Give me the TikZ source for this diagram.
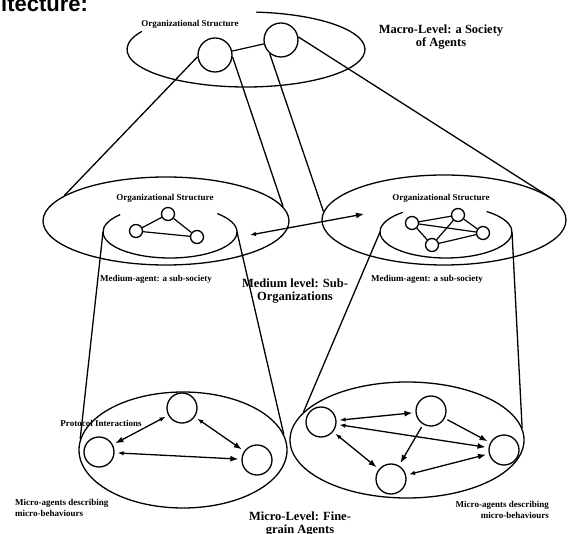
\documentclass[tikz,border=0pt]{standalone}
\usepackage{fontspec}
\setmainfont{Liberation Serif}
\newfontfamily\headfont{Liberation Sans}
\usetikzlibrary{arrows.meta,calc,shapes.geometric}
\tikzset{
  ring/.style={draw=black, line width=1.3pt},
  cone/.style={draw=black, line width=1.3pt},
  level/.style={ellipse, draw=black, line width=1.3pt, inner sep=0pt},
  agent/.style={circle, draw=black, line width=1.3pt, inner sep=0pt, minimum size=34pt},
  subAgent/.style={circle, draw=black, line width=1.3pt, inner sep=0pt, minimum size=13pt},
  microAgent/.style={circle, draw=black, line width=1.3pt, inner sep=0pt, minimum size=30pt},
  tie/.style={draw=black, line width=1.2pt},
  arrow/.style={-{Latex[length=8pt,width=6pt]}, draw=black, line width=1.3pt, shorten >=3pt, shorten <=3pt},
  biarrow/.style={{Latex[length=6pt,width=4.5pt]}-{Latex[length=8pt,width=6pt]}, draw=black, line width=1.3pt, shorten >=3pt, shorten <=3pt},
  levelLabel/.style={font=\bfseries\fontsize{12.5}{13}\selectfont, align=center, inner sep=0pt},
  smallLabel/.style={font=\bfseries\fontsize{9}{11}\selectfont, inner sep=0pt},
  headLabel/.style={font=\headfont\bfseries\fontsize{22}{24}\selectfont, inner sep=0pt}
}

\begin{document}
\begin{tikzpicture}[x=1pt,y=-1pt]
\useasboundingbox (0,0) rectangle (568,534);

% --------------------------------------------------------------------------
% Macro level: a society of agents
% --------------------------------------------------------------------------
\node[headLabel, anchor=base west] (head) at (1,12) {itecture:};

\coordinate (macroC) at (246,49.5);
\draw[ring] ($(macroC)+(-85:119 and 37.5)$) arc[start angle=-85, end angle=209, x radius=119, y radius=37.5];
\node[smallLabel] (macroStruct) at (190,24) {Organizational Structure};
\node[levelLabel] (macroTitle) at (441,37.5) {Macro-Level: a Society\\of Agents};

\node[agent] (topA) at (215,55) {};
\node[agent] (topB) at (281,40) {};
\draw[tie] (topA) -- (topB);

% --------------------------------------------------------------------------
% Medium level: sub-organizations
% --------------------------------------------------------------------------
\node[level, minimum width=246pt, minimum height=88pt] (midL) at (166,221) {};
\node[level, minimum width=244pt, minimum height=90pt] (midR) at (444,220) {};

\draw[cone] (topA.186) -- (midL.166);
\draw[cone] (topA.-6) -- (midL.7);
\draw[cone] (topB.230) -- (midR.176);
\draw[cone] (topB.10) -- (midR.10);

\node[smallLabel] (midStructL) at (165,198) {Organizational Structure};
\node[smallLabel] (midStructR) at (441,198) {Organizational Structure};

\coordinate (subLc) at (170,232);
\draw[ring] ($(subLc)+(-45:67 and 26)$) arc[start angle=-45, end angle=222, x radius=67, y radius=26];
\coordinate (subLw) at ($(subLc)+(180:67 and 26)$);
\coordinate (subLe) at ($(subLc)+(0:67 and 26)$);

\coordinate (subRc) at (446,232);
\draw[ring] ($(subRc)+(-52:66 and 26)$) arc[start angle=-52, end angle=229, x radius=66, y radius=26];
\coordinate (subRw) at ($(subRc)+(180:66 and 26)$);
\coordinate (subRe) at ($(subRc)+(0:66 and 26)$);

\node[subAgent] (sA) at (168,214) {};
\node[subAgent] (sB) at (136,231) {};
\node[subAgent] (sC) at (197,237) {};
\draw[tie] (sA) -- (sB);
\draw[tie] (sA) -- (sC);
\draw[tie] (sB) -- (sC);

\node[subAgent] (tA) at (412,223) {};
\node[subAgent] (tB) at (458,215) {};
\node[subAgent] (tC) at (483,233) {};
\node[subAgent] (tD) at (432,245) {};
\draw[tie] (tA) -- (tB);
\draw[tie] (tA) -- (tC);
\draw[tie] (tA) -- (tD);
\draw[tie] (tB) -- (tD);
\draw[tie] (tB) -- (tC);
\draw[tie] (tD) -- (tC);

\coordinate (linkL) at (250,235);
\coordinate (linkR) at (364,214);
\draw[biarrow, shorten >=0pt, shorten <=0pt] (linkL) -- (linkR);

\node[smallLabel] (subSocL) at (156,279) {Medium-agent: a sub-society};
\node[smallLabel] (subSocR) at (427,279) {Medium-agent: a sub-society};
\node[levelLabel] (mediumTitle) at (295,291) {Medium level: Sub-\\Organizations};

% --------------------------------------------------------------------------
% Micro level: fine-grain agents
% --------------------------------------------------------------------------
\node[level, minimum width=208pt, minimum height=116pt] (microL) at (183,450) {};
\node[level, minimum width=234pt, minimum height=116pt] (microR) at (407,440) {};

\draw[cone] (subLw) -- (microL.174);
\draw[cone] (subLe) -- (microL.9);
\draw[cone] (subRw) -- (microR.165);
\draw[cone] (subRe) -- (microR.6);

\node[microAgent] (mA) at (182,408) {};
\node[microAgent] (mB) at (99,452) {};
\node[microAgent] (mC) at (257,460) {};
\draw[biarrow] (mA) -- (mB);
\draw[biarrow] (mA) -- (mC);
\draw[biarrow] (mB) -- (mC);

\node[microAgent] (rA) at (321,422) {};
\node[microAgent] (rB) at (431,411) {};
\node[microAgent] (rC) at (504,450) {};
\node[microAgent] (rD) at (391,479) {};
\draw[biarrow] (rA) -- (rB);
\draw[biarrow] (rA) -- (rC);
\draw[biarrow] (rA) -- (rD);
\draw[arrow] (rB) -- (rD);
\draw[arrow] (rB) -- (rC);
\draw[biarrow] (rD) -- (rC);

\node[smallLabel] (protocols) at (101,423) {Protocol Interactions};
\node[smallLabel, align=left, anchor=west] (microDescL) at (15,508) {Micro-agents describing\\micro-behaviours};
\node[smallLabel, align=right, anchor=east] (microDescR) at (549,510) {Micro-agents describing\\micro-behaviours};
\node[levelLabel] (microTitle) at (300,524) {Micro-Level: Fine-\\grain Agents};

\end{tikzpicture}
\end{document}
